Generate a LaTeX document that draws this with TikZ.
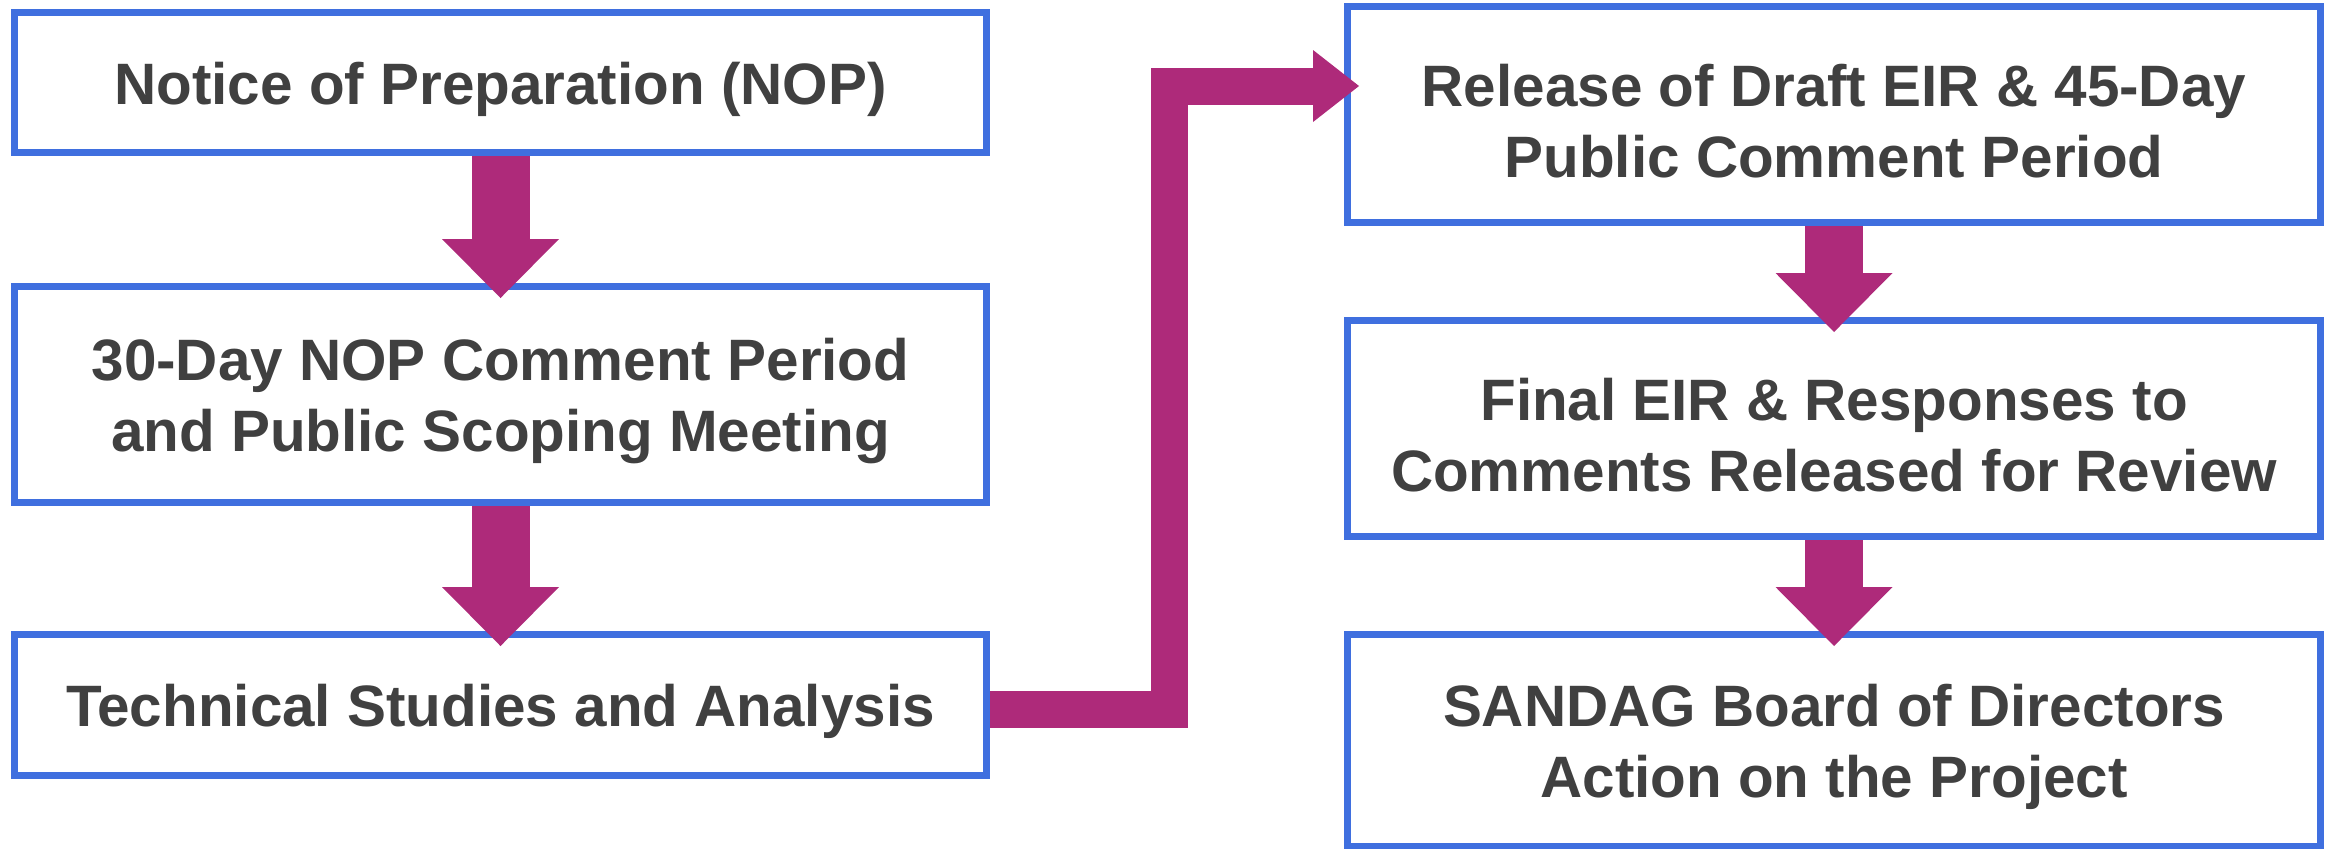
\documentclass[tikz,border=0pt]{standalone}
\usepackage{fontspec}
\setmainfont{Liberation Sans}
\usetikzlibrary{arrows.meta}
\definecolor{boxblue}{HTML}{3F6FDF}
\definecolor{flowmagenta}{HTML}{AE2A7A}
\definecolor{textgray}{HTML}{404040}
\begin{document}
\begin{tikzpicture}[x=0.25pt,y=-0.25pt]

    \tikzset{
      stagebox/.style={
        draw=boxblue,
        line width=1.75pt,
        fill=white,
        inner sep=0pt,
      },
      stagetext/.style={
        inner sep=0pt,
        yshift=-1.6pt,
        align=center,
        text=textgray,
        font=\fontsize{14.6}{17.75}\selectfont\bfseries,
      },
      downarrow/.style={
        draw=flowmagenta,
        line width=14.5pt,
        shorten >=-3.75pt,
        -{Triangle[length=14.75pt,width=29.25pt,line width=0pt]},
      },
      elbowarrow/.style={
        draw=flowmagenta,
        line width=9.25pt,
        line join=miter,
        shorten >=-3.75pt,
        -{Triangle[length=11.5pt,width=18pt,line width=0pt]},
      },
    }
    \useasboundingbox (0,0) rectangle (2330,848);

    % left column
    \node[stagebox,minimum width=243pt,minimum height=35pt,
      label={[stagetext]center:Notice of Preparation (NOP)}] (nop) at (500.5,82.5) {};
    \node[stagebox,minimum width=243pt,minimum height=54pt,
      label={[stagetext]center:{30-Day NOP Comment Period\\and Public Scoping Meeting}}] (scope) at (500.5,394.5) {};
    \node[stagebox,minimum width=243pt,minimum height=35.25pt,
      label={[stagetext]center:Technical Studies and Analysis}] (tech) at (500.5,705) {};

    % right column
    \node[stagebox,minimum width=243.25pt,minimum height=54pt,
      label={[stagetext]center:{Release of Draft EIR \& 45-Day\\Public Comment Period}}] (draft) at (1834,114.5) {};
    \node[stagebox,minimum width=243.25pt,minimum height=54pt,
      label={[stagetext]center:{Final EIR \& Responses to\\Comments Released for Review}}] (final) at (1834,428.5) {};
    \node[stagebox,minimum width=243.25pt,minimum height=53pt,
      label={[stagetext]center:{SANDAG Board of Directors\\Action on the Project}}] (board) at (1834,740.5) {};

    \coordinate (bendlow) at (1169,709.5);
    \coordinate (bendhigh) at (1169,86);

    \draw[downarrow] (nop.south) -- (scope.north);
    \draw[downarrow] (scope.south) -- (tech.north);
    \draw[downarrow] (draft.south) -- (final.north);
    \draw[downarrow] (final.south) -- (board.north);
    \draw[elbowarrow] (tech.east |- bendlow) -- (bendlow) -- (bendhigh) -- (draft.west |- bendhigh);

\end{tikzpicture}
\end{document}
